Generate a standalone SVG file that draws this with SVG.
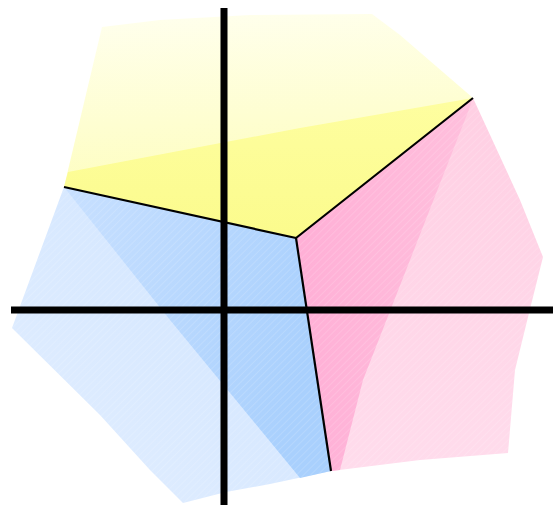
<svg xmlns="http://www.w3.org/2000/svg" width="553" height="505" viewBox="0 0 553 505">
  <defs>
    <linearGradient id="gy" x1="0" y1="0" x2="0.1" y2="1">
      <stop offset="0" stop-color="#ffffee"/>
      <stop offset="1" stop-color="#fdfdb4"/>
    </linearGradient>
    <linearGradient id="gyd" x1="0" y1="0" x2="0" y2="1">
      <stop offset="0" stop-color="#fefea0"/>
      <stop offset="1" stop-color="#fbfb8c"/>
    </linearGradient>
    <linearGradient id="gb" x1="1" y1="0" x2="0" y2="1">
      <stop offset="0" stop-color="#cfe4ff"/>
      <stop offset="1" stop-color="#e2eeff"/>
    </linearGradient>
    <linearGradient id="gbd" x1="0" y1="0" x2="1" y2="0.3">
      <stop offset="0" stop-color="#c8e0ff"/>
      <stop offset="1" stop-color="#a9d0fd"/>
    </linearGradient>
    <linearGradient id="gp" x1="0" y1="0" x2="0" y2="1">
      <stop offset="0" stop-color="#ffcfe3"/>
      <stop offset="1" stop-color="#ffdcec"/>
    </linearGradient>
    <linearGradient id="gpd" x1="0" y1="0" x2="1" y2="0">
      <stop offset="0" stop-color="#ffafd6"/>
      <stop offset="1" stop-color="#ffc0dd"/>
    </linearGradient>
    <pattern id="hatch" width="5" height="5" patternUnits="userSpaceOnUse" patternTransform="rotate(45)">
      <line x1="0" y1="0" x2="0" y2="5" stroke="#ffffff" stroke-opacity="0.18" stroke-width="1.5"/>
    </pattern>
  </defs>
  <style>
    .edge { fill: none; stroke: #000; stroke-width: 2.2; stroke-linejoin: round; }
    .axis { stroke: #000; stroke-width: 7; }
  </style>

  <g id="yellow-region">
    <polygon points="64,187 102,27 160,20 250,15 372,14 400,35 473,98 296,238" fill="url(#gy)"/>
    <polygon points="64,187 68,172 300,128 473,98 296,238" fill="url(#gyd)"/>
  </g>

  <g id="blue-region">
    <polygon points="64,187 296,238 331,471 270,484 226,492 183,503 150,470 100,415 12,328" fill="url(#gb)"/>
    <polygon points="64,187 296,238 331,471 300,478 170,320" fill="url(#gbd)"/>
    <polygon points="64,187 296,238 331,471 270,484 226,492 183,503 150,470 100,415 12,328" fill="url(#hatch)"/>
  </g>

  <g id="pink-region">
    <polygon points="473,98 520,200 543,257 529,313 515,370 508,453 420,460 331,471 296,238" fill="url(#gp)"/>
    <polygon points="473,98 468,112 363,380 340,470 331,471 296,238" fill="url(#gpd)"/>
    <polygon points="473,98 520,200 543,257 529,313 515,370 508,453 420,460 331,471 296,238" fill="url(#hatch)"/>
  </g>

  <g id="connectors">
    <polyline class="edge" points="64,187 296,238 473,98"/>
    <line class="edge" x1="296" y1="238" x2="331" y2="471"/>
    <line class="axis" x1="224" y1="8" x2="224" y2="505"/>
    <line class="axis" x1="11" y1="310" x2="553" y2="310"/>
  </g>
</svg>
